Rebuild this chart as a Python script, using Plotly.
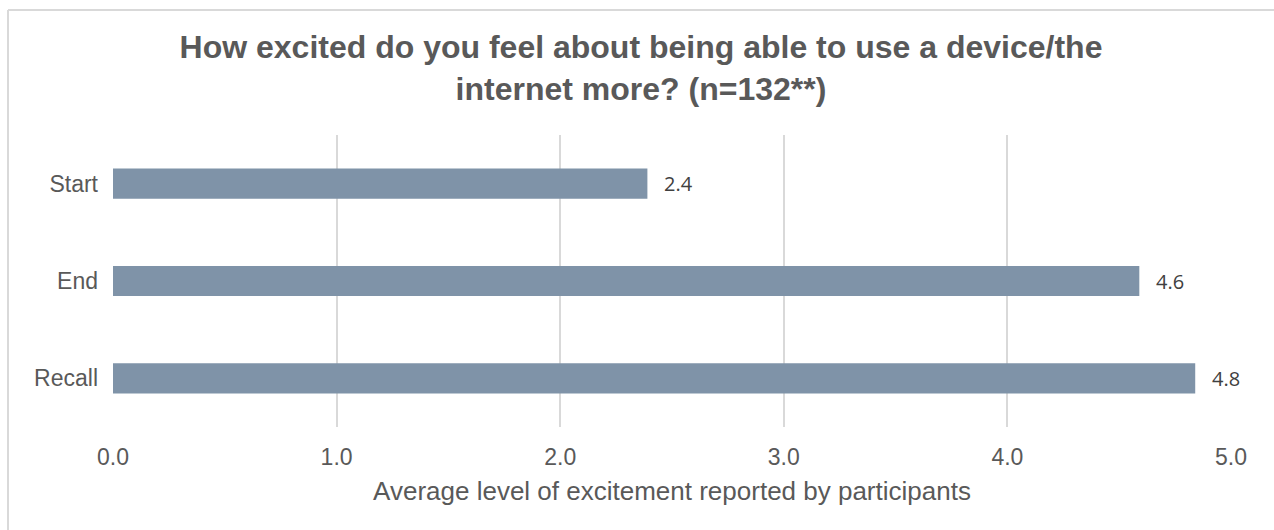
import plotly.graph_objects as go

categories = ["Start", "End", "Recall"]
values = [2.39, 4.59, 4.84]
tick_vals = [0, 1, 2, 3, 4, 5]
tick_text = ["0.0", "1.0", "2.0", "3.0", "4.0", "5.0"]

W, H = 1274, 530
L, R, T, B = 113, 43, 135, 103
pw, ph = W - L - R, H - T - B

def px_x(p):
    return (p - L) / pw

def px_y(p):
    return (H - B - p) / ph

fig = go.Figure()
fig.add_trace(go.Bar(
    y=categories, x=values, orientation="h",
    marker=dict(color="#7F93A8", line=dict(width=0)),
    width=0.31,
    hoverinfo="skip",
))

for c, v in zip(categories, values):
    fig.add_annotation(x=v, y=c, xref="x", yref="y", text=f"{v:.1f}",
                       showarrow=False, xanchor="left", xshift=15,
                       font=dict(family="Open Sans", size=20, color="#404040"))

# chart border (top and left edges visible)
border = "#D9D9D9"
fig.add_shape(type="line", xref="paper", yref="paper",
              x0=px_x(8), x1=px_x(1300), y0=px_y(10), y1=px_y(10),
              line=dict(color=border, width=2))
fig.add_shape(type="line", xref="paper", yref="paper",
              x0=px_x(8), x1=px_x(8), y0=px_y(10), y1=px_y(560),
              line=dict(color=border, width=2))

fig.update_layout(
    width=W, height=H,
    margin=dict(l=L, r=R, t=T, b=B),
    paper_bgcolor="white", plot_bgcolor="white",
    showlegend=False,
    font=dict(family="Liberation Sans, Arial", color="#595959"),
    title=dict(
        text="<b>How excited do you feel about being able to use a device/the<br>internet more? (n=132**)</b>",
        x=641 / W, xanchor="center", xref="container",
        y=1 - 58 / H, yanchor="top", yref="container",
        font=dict(family="Liberation Sans, Arial", size=32, color="#595959"),
    ),
    xaxis=dict(
        range=[0, 5], tickvals=tick_vals, ticktext=tick_text,
        showgrid=True, gridcolor="#D9D9D9", gridwidth=1.5,
        zeroline=False, showline=False,
        ticks="", ticklabelstandoff=14,
        tickfont=dict(size=23, color="#595959"),
        title=dict(text="Average level of excitement reported by participants",
                   font=dict(size=26, color="#595959"), standoff=12),
        fixedrange=True,
    ),
    yaxis=dict(
        autorange="reversed", showgrid=False, zeroline=False,
        showline=False, ticks="", ticklabelstandoff=14,
        tickfont=dict(size=23, color="#595959"),
        fixedrange=True,
    ),
)

fig.write_html("out.html")
